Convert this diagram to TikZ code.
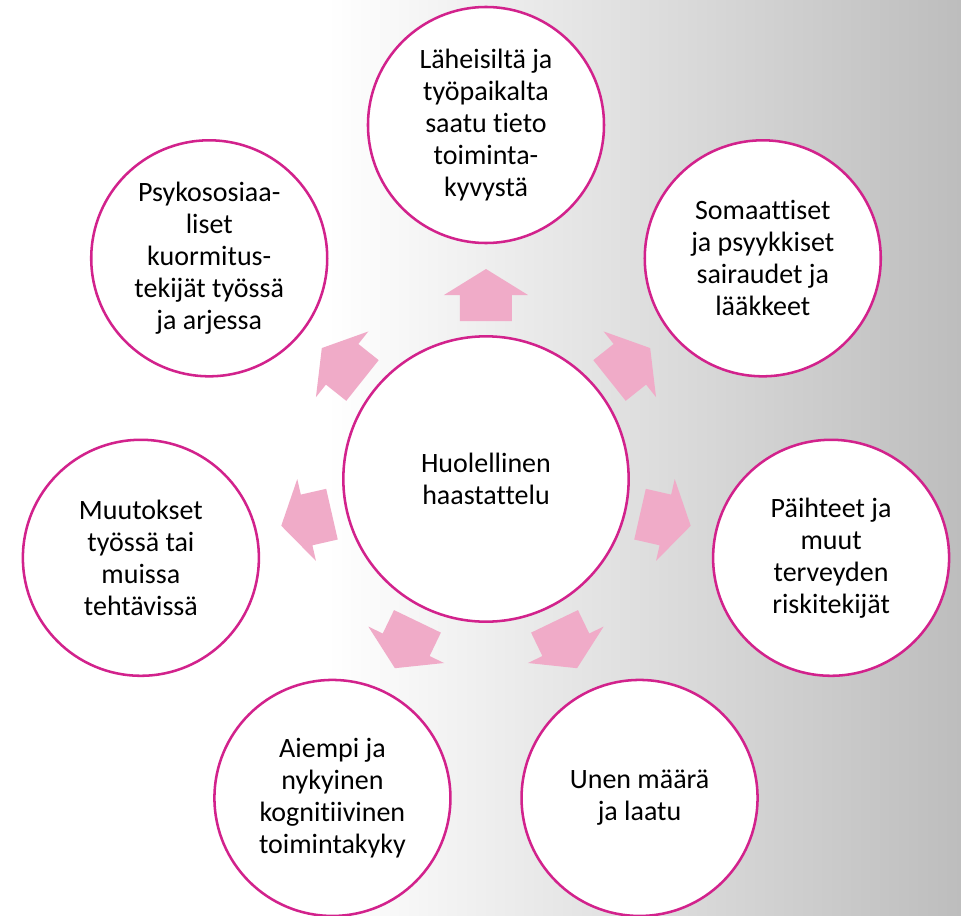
\documentclass[tikz,border=0pt]{standalone}
\usepackage{fontspec}
\setmainfont[Ligatures=NoCommon]{Carlito}
\usepackage{tikz}
\definecolor{ringmagenta}{HTML}{D2228C}
\definecolor{arrowpink}{HTML}{F0ABC8}
\definecolor{slidegray}{HTML}{BDBDBD}
\pgfdeclarehorizontalshading{slidebg}{100bp}{color(0bp)=(white); color(25bp)=(white); color(42bp)=(white); color(75bp)=(slidegray); color(100bp)=(slidegray)}

\begin{document}
\begin{tikzpicture}[x=0.75pt,y=0.75pt,font=\fontsize{21}{24}\selectfont,
  topic/.style={circle,draw=ringmagenta,line width=1.9pt,fill=white,align=center,inner sep=0pt,minimum size=177pt},
  hub/.style={topic,minimum size=214pt}]
\useasboundingbox (-486,-436) rectangle (475,479);
\clip (-486,-436) rectangle (475,479);
\shade[shading=slidebg] (-486,-436) rectangle (475,479);
% block arrows from the hub outwards
\foreach \a in {90,38.57,-12.86,-64.29,-115.71,-167.14,141.43}
  \fill[arrowpink,rotate=\a] (158,-26) -- (184,-26) -- (184,-42) -- (210,0) -- (184,42) -- (184,26) -- (158,26) -- cycle;
\node[hub] (hub) at (0,0) {Huolellinen\\haastattelu};
\node[topic] (info) at (90:354) {Läheisiltä ja\\työpaikalta\\saatu tieto\\toiminta-\\kyvystä};
\node[topic] (illness) at (38.57:354) {Somaattiset\\ja psyykkiset\\sairaudet ja\\lääkkeet};
\node[topic] (risk) at (-12.86:354) {Päihteet ja\\muut\\terveyden\\riskitekijät};
\node[topic] (sleep) at (-64.29:354) {Unen määrä\\ja laatu};
\node[topic] (cogn) at (-115.71:354) {Aiempi ja\\nykyinen\\kognitiivinen\\toimintakyky};
\node[topic] (change) at (-167.14:354) {Muutokset\\työssä tai\\muissa\\tehtävissä};
\node[topic] (stress) at (141.43:354) {Psykososiaa-\\liset\\kuormitus-\\tekijät työssä\\ja arjessa};
\end{tikzpicture}
\end{document}
